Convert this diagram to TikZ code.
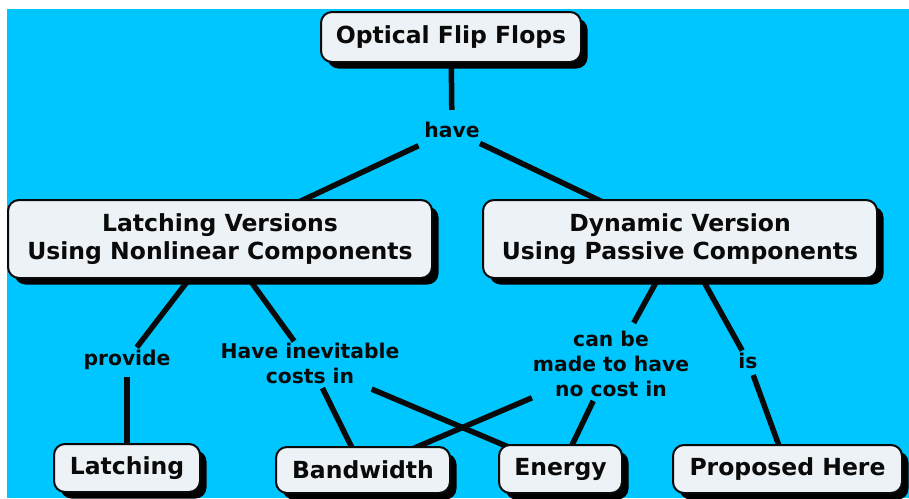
\documentclass[tikz,border=0pt]{standalone}
\usepackage{fontspec}
\setmainfont{DejaVu Sans}
\usetikzlibrary{shadows}
\definecolor{mapbg}{RGB}{0,198,255}
\definecolor{boxfill}{RGB}{236,242,245}
\definecolor{ink}{RGB}{10,10,10}
\tikzset{
  concept/.style={draw=ink, line width=2pt, fill=boxfill, rounded corners=11pt,
    align=center, inner sep=0pt, text=ink,
    font=\fontsize{23.5}{28}\selectfont\bfseries,
    drop shadow={shadow xshift=6.5pt, shadow yshift=-6.5pt, fill=black, opacity=1}},
  linkword/.style={align=center, inner sep=0pt, text=ink,
    font=\fontsize{20.3}{25}\selectfont\bfseries},
  link/.style={draw=ink, line width=5.5pt}
}
\begin{document}
\begin{tikzpicture}[x=1pt, y=-1pt]
  \useasboundingbox (0,0) rectangle (909,498);
  \fill[white] (0,0) rectangle (909,498);
  \fill[mapbg] (7,9) rectangle (909,498);

  % linking phrases
  \node[linkword] (have) at (452,130) {have};
  \node[linkword] (provide) at (127,360) {provide};
  \node[linkword] (costs) at (310,363) {Have inevitable\\costs in};
  \node[linkword] (nocost) at (611,364) {can be\\made to have\\no cost in};
  \node[linkword] (is) at (748,361) {is};

  % concept box centres; the boxes are drawn later on top of the links
  \path (451,37) coordinate (cOFF)
        (220,239) coordinate (cLV)
        (680,239) coordinate (cDV)
        (127,468) coordinate (cLat)
        (363,470) coordinate (cBw)
        (560.5,469) coordinate (cEn)
        (787.5,469) coordinate (cPH);

  % links (the boxes hide their ends)
  \draw[link, shorten >=12pt] (cOFF) -- (have);
  \draw[link, shorten <=37pt] (have.center) -- (cLV);
  \draw[link, shorten <=31pt] (have.center) -- (cDV);
  \draw[link, shorten >=16pt] (cLV) -- (provide.center);
  \draw[link, shorten <=17pt] (provide.center) -- (cLat);
  \draw[link, shorten >=27pt] (cLV) -- (costs.center);
  \draw[link, shorten <=28pt] (costs.center) -- (cBw);
  \draw[link, shorten <=67pt] (costs.center) -- (cEn);
  \draw[link, shorten >=47pt] (cDV) -- (nocost.center);
  \draw[link, shorten <=86pt] (nocost.center) -- (cBw);
  \draw[link, shorten <=41pt] (nocost.center) -- (cEn);
  \draw[link, shorten >=12pt] (cDV) -- (is.center);
  \draw[link, shorten <=15pt] (is.center) -- (cPH);

  % concepts
  \node[concept, minimum width=260pt, minimum height=50pt] (OFF) at (cOFF) {Optical Flip Flops};
  \node[concept, minimum width=424pt, minimum height=78pt] (LV) at (cLV) {Latching Versions\\Using Nonlinear Components};
  \node[concept, minimum width=394pt, minimum height=78pt] (DV) at (cDV) {Dynamic Version\\Using Passive Components};
  \node[concept, minimum width=146pt, minimum height=48pt] (Lat) at (cLat) {Latching};
  \node[concept, minimum width=174pt, minimum height=46pt] (Bw) at (cBw) {Bandwidth};
  \node[concept, minimum width=123pt, minimum height=48pt] (En) at (cEn) {Energy};
  \node[concept, minimum width=229pt, minimum height=48pt] (PH) at (cPH) {Proposed Here};
\end{tikzpicture}
\end{document}
